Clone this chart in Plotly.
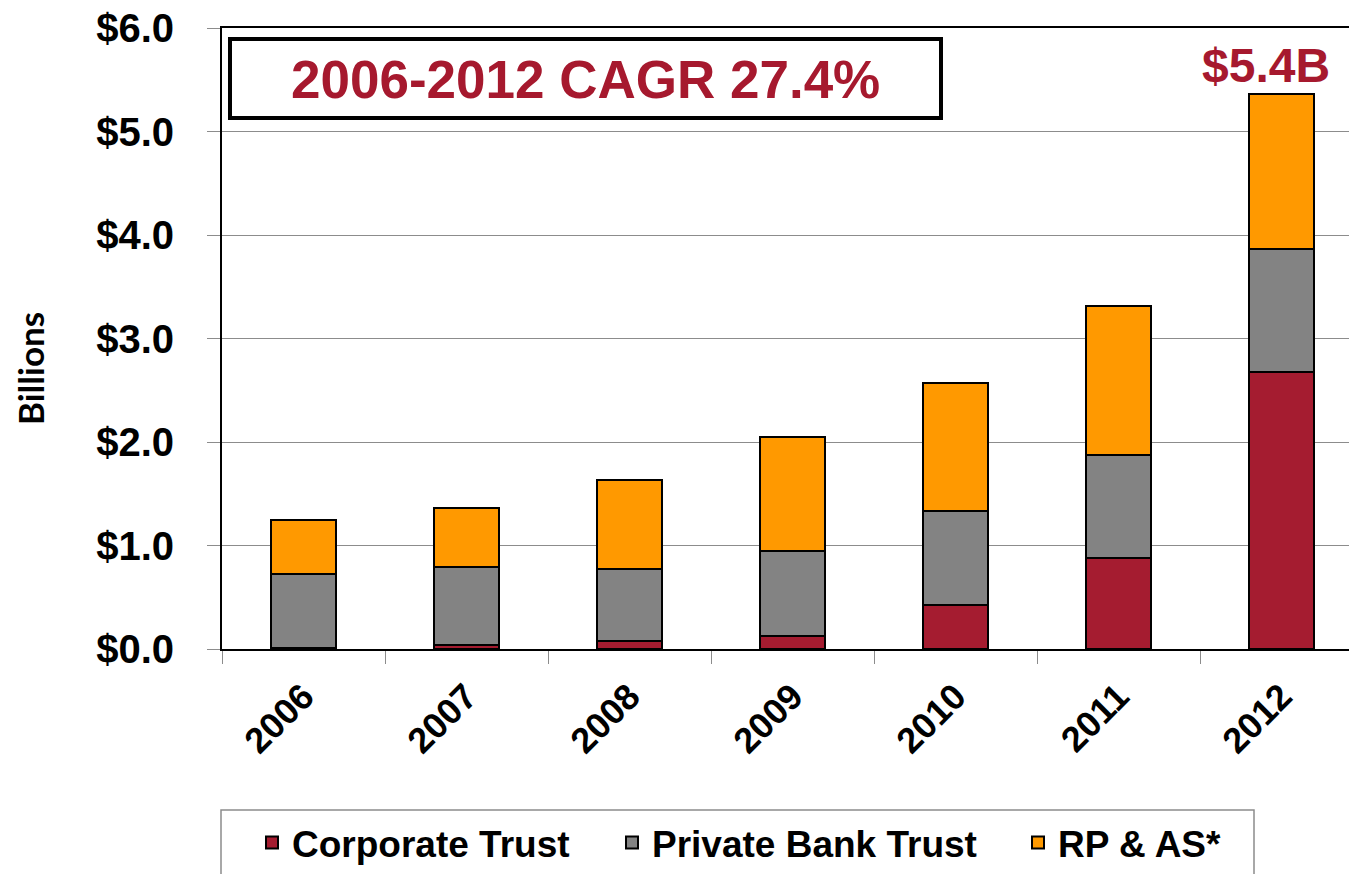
import plotly.graph_objects as go

years = ["2006", "2007", "2008", "2009", "2010", "2011", "2012"]
corporate_trust = [0.005, 0.04, 0.08, 0.13, 0.43, 0.88, 2.68]
private_bank_trust = [0.715, 0.75, 0.69, 0.82, 0.90, 0.99, 1.18]
rp_as = [0.53, 0.57, 0.86, 1.10, 1.24, 1.44, 1.50]
series_names = ["Corporate Trust", "Private Bank Trust", "RP & AS*"]
series_colors = ["#A51C30", "#838383", "#FF9900"]
cagr_text = "2006-2012 CAGR 27.4%"
total_label = "$5.4B"
y_title = "Billions"

RED_TEXT = "#A6192E"
FONT = "Liberation Sans, Arial, sans-serif"

fig = go.Figure()
legend_ids = ["legend", "legend2", "legend3"]
for name, vals, col, lg in zip(series_names, [corporate_trust, private_bank_trust, rp_as], series_colors, legend_ids):
    fig.add_trace(go.Bar(
        x=years, y=vals, name=name, width=0.4,
        marker=dict(color=col, line=dict(color="black", width=2)),
        legend=lg,
    ))

totals = [a + b + c for a, b, c in zip(corporate_trust, private_bank_trust, rp_as)]

# page offset from default body margin
OFF = 8
W, H = 1357, 874
L, T, B = 222 - OFF, 28 - OFF, 874 - (649 - OFF)
pw, ph = W - L, H - T - B
cat_w = 163.0
x_end = -0.5 + pw / cat_w

def px(x):
    return (x - OFF - L) / pw

def py(y):
    return (H - B - (y - OFF)) / ph

leg_font = dict(family=FONT, size=37, color="black", weight="bold")
leg_common = dict(orientation="h", yanchor="middle", xanchor="left", bgcolor="rgba(0,0,0,0)",
                  borderwidth=0, font=leg_font)

fig.update_layout(
    width=W, height=H,
    margin=dict(l=L, r=0, t=T, b=B, autoexpand=False),
    plot_bgcolor="white", paper_bgcolor="white",
    barmode="stack",
    showlegend=True,
    legend=dict(x=px(252), y=py(843), **leg_common),
    legend2=dict(x=px(612), y=py(843), **leg_common),
    legend3=dict(x=px(1018), y=py(843), **leg_common),
    xaxis=dict(
        type="category", range=[-0.5, x_end],
        showline=True, linecolor="black", linewidth=2, mirror=True,
        ticks="outside", ticklen=13, tickcolor="#8c8c8c", tickwidth=1,
        tickson="boundaries", tickangle=-45, ticklabelstandoff=10,
        tickfont=dict(family=FONT, size=36, color="black", weight="bold"),
        showgrid=False,
    ),
    yaxis=dict(
        range=[0, 6], dtick=1, tick0=0,
        tickprefix="$", tickformat=".1f",
        showline=True, linecolor="black", linewidth=2,
        ticks="outside", ticklen=13, tickcolor="#8c8c8c", tickwidth=1,
        ticklabelstandoff=25, ticklabeloverflow="allow",
        showgrid=True, gridcolor="#8c8c8c", gridwidth=1,
        zeroline=False,
        tickfont=dict(family=FONT, size=40, color="black", weight="bold"),
    ),
    shapes=[
        dict(type="rect", xref="paper", yref="paper",
             x0=px(230), x1=px(941), y0=py(118), y1=py(39),
             line=dict(color="black", width=4), fillcolor="rgba(0,0,0,0)"),
        dict(type="rect", xref="paper", yref="paper",
             x0=px(221), x1=px(1254), y0=py(900), y1=py(810),
             line=dict(color="#8c8c8c", width=1.5), fillcolor="rgba(0,0,0,0)"),
    ],
    annotations=[
        dict(text=cagr_text, xref="paper", yref="paper", x=px(585), y=py(79),
             xanchor="center", yanchor="middle", showarrow=False,
             font=dict(family=FONT, size=53, color=RED_TEXT, weight="bold")),
        dict(text=total_label, xref="x", yref="y", x=len(years) - 1, y=totals[-1],
             xanchor="center", yanchor="bottom", showarrow=False, xshift=-16,
             font=dict(family=FONT, size=48, color=RED_TEXT, weight="bold")),
        dict(text=y_title, xref="paper", yref="paper", x=px(30), y=py(369),
             xanchor="center", yanchor="middle", showarrow=False, textangle=-90,
             font=dict(family="Lato, Open Sans, sans-serif", size=35, color="black", weight="bold")),
    ],
)

fig.write_html("out.html")
